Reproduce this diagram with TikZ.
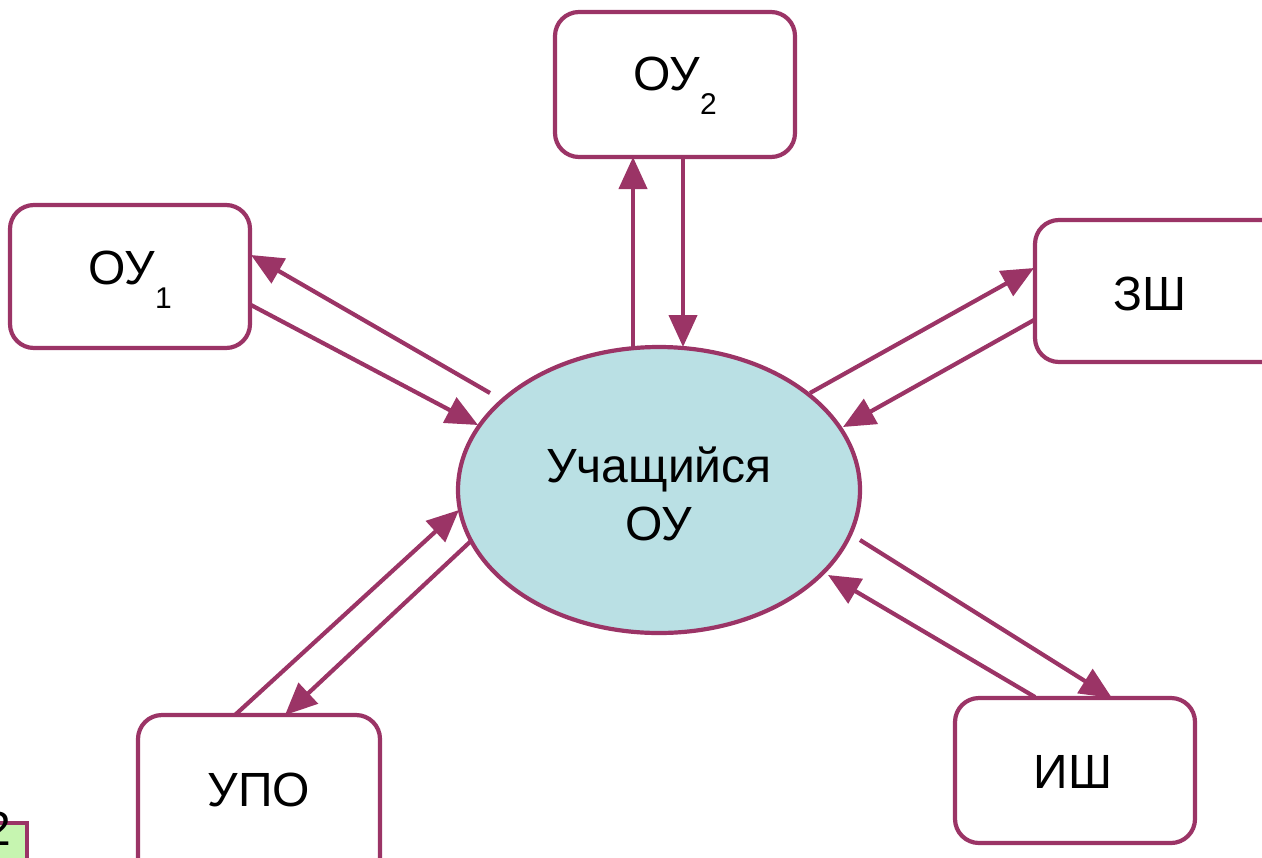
\documentclass[tikz,border=0pt]{standalone}
\usepackage{fontspec}
\setmainfont{Liberation Sans}
\usetikzlibrary{arrows.meta}
\definecolor{pur}{RGB}{155,52,102}
\definecolor{ellfill}{RGB}{186,224,228}
\definecolor{grn}{RGB}{198,245,176}
\newcommand{\sbs}[1]{\raisebox{-0.5em}{\fontsize{15}{15}\selectfont #1}}
\tikzset{
  box/.style={draw=pur, line width=2.1pt, rounded corners=12pt, fill=white},
  conn/.style={draw=pur, line width=2.1pt, -{Triangle[length=16pt,width=14pt]}},
  lbl/.style={font=\fontsize{24}{29}\selectfont, align=center, text=black}
}
\begin{document}
\begin{tikzpicture}[x=0.5pt,y=-0.5pt]
\useasboundingbox (0,0) rectangle (1262,857);
% boxes
\draw[box] (555,12) rectangle (795,157);
\node[lbl] (ou2) at (675,86) {ОУ\sbs{2}};
\draw[box] (10,205) rectangle (250,348);
\node[lbl] (ou1) at (130,280) {ОУ\sbs{1}};
\draw[box] (1035,220) rectangle (1290,362);
\node[lbl] (zsh) at (1150,294) {ЗШ};
\draw[box] (138,715) rectangle (380,900);
\node[lbl] (upo) at (259,790) {УПО};
\draw[box] (955,698) rectangle (1195,843);
\node[lbl] (ish) at (1073,772) {ИШ};
% ellipse
\draw[draw=pur, line width=2.1pt, fill=ellfill] (659,490) ellipse [x radius=201, y radius=143];
\node[lbl] (st) at (659,494) {Учащийся\\ОУ};
% green box with 2
\draw[draw=pur, line width=2.1pt, fill=grn] (-10,823) rectangle (27,880);
\node[lbl, anchor=east, inner sep=0pt] (two) at (12,829) {2};
% connectors
\coordinate (a1s) at (633,347); \coordinate (a1e) at (633,157);
\draw[conn] (a1s) -- (a1e);
\coordinate (a2s) at (683,157); \coordinate (a2e) at (683,347);
\draw[conn] (a2s) -- (a2e);
\coordinate (b1s) at (490,393); \coordinate (b1e) at (251,255);
\draw[conn] (b1s) -- (b1e);
\coordinate (b2s) at (251,305); \coordinate (b2e) at (478,425);
\draw[conn] (b2s) -- (b2e);
\coordinate (c1s) at (810,393); \coordinate (c1e) at (1034,268);
\draw[conn] (c1s) -- (c1e);
\coordinate (c2s) at (1034,320); \coordinate (c2e) at (843,427);
\draw[conn] (c2s) -- (c2e);
\coordinate (d1s) at (860,540); \coordinate (d1e) at (1112,698);
\draw[conn] (d1s) -- (d1e);
\coordinate (d2s) at (1035,697); \coordinate (d2e) at (828,575);
\draw[conn] (d2s) -- (d2e);
\coordinate (e1s) at (235,715); \coordinate (e1e) at (459,510);
\draw[conn] (e1s) -- (e1e);
\coordinate (e2s) at (472,540); \coordinate (e2e) at (285,715);
\draw[conn] (e2s) -- (e2e);
\end{tikzpicture}
\end{document}
